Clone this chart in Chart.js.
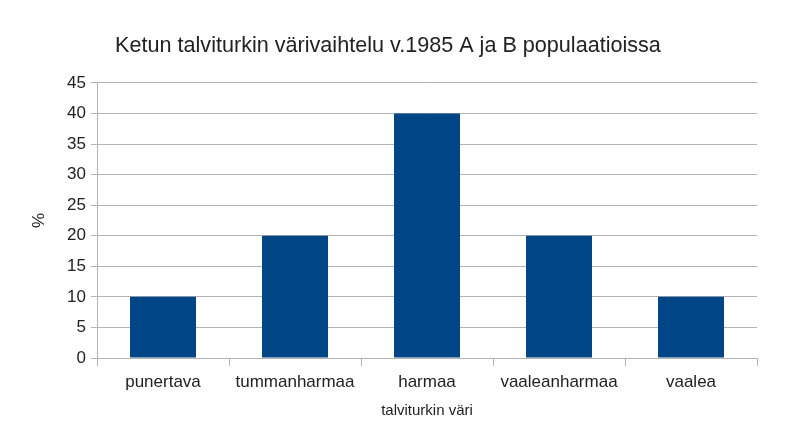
<!DOCTYPE html>
<html>
<head>
<meta charset="utf-8">
<script src="https://cdn.jsdelivr.net/npm/chart.js@4"></script>
<style>
  html, body { margin: 0; padding: 0; background: #fff; }
  canvas { display: block; }
</style>
</head>
<body>
<canvas id="chart" width="800" height="447"></canvas>
<script>
const categories = ["punertava", "tummanharmaa", "harmaa", "vaaleanharmaa", "vaalea"];
const values = [10, 20, 40, 20, 10];

const gridColor = "#b3b3b3";
const textColor = "#222222";
const fontFamily = "'Liberation Sans', Arial, sans-serif";

new Chart(document.getElementById("chart").getContext("2d"), {
  type: "bar",
  data: {
    labels: categories,
    datasets: [{
      label: "%",
      data: values,
      backgroundColor: "#004586",
      categoryPercentage: 0.5,
      barPercentage: 1
    }]
  },
  options: {
    responsive: false,
    animation: false,
    devicePixelRatio: 1,
    layout: { padding: { left: 19, right: 43, top: 0, bottom: 0 } },
    plugins: {
      legend: { display: false },
      tooltip: { enabled: false },
      title: {
        display: true,
        text: "Ketun talviturkin värivaihtelu v.1985 A ja B populaatioissa",
        color: textColor,
        font: { family: fontFamily, size: 21.6, weight: "normal" },
        padding: { top: 33, bottom: 24 }
      }
    },
    scales: {
      x: {
        offset: true,
        grid: {
          offset: true,
          drawOnChartArea: false,
          color: gridColor,
          tickLength: 8
        },
        border: { display: false },
        ticks: {
          color: textColor,
          font: { family: fontFamily, size: 17 },
          padding: 6,
          maxRotation: 0,
          autoSkip: false
        },
        title: {
          display: true,
          text: "talviturkin väri",
          color: textColor,
          font: { family: fontFamily, size: 15 },
          padding: { top: 0, bottom: 27 }
        },
        afterFit: scale => { scale.height = 89; }
      },
      y: {
        min: 0,
        max: 45,
        ticks: {
          stepSize: 5,
          color: textColor,
          font: { family: fontFamily, size: 17 },
          padding: 5
        },
        grid: {
          color: gridColor,
          tickLength: 6
        },
        border: { color: gridColor },
        title: {
          display: true,
          text: "%",
          color: textColor,
          font: { family: fontFamily, size: 17 },
          padding: { top: 10, bottom: 0 }
        },
        afterFit: scale => { scale.width = 78; }
      }
    }
  }
});
</script>
</body>
</html>
